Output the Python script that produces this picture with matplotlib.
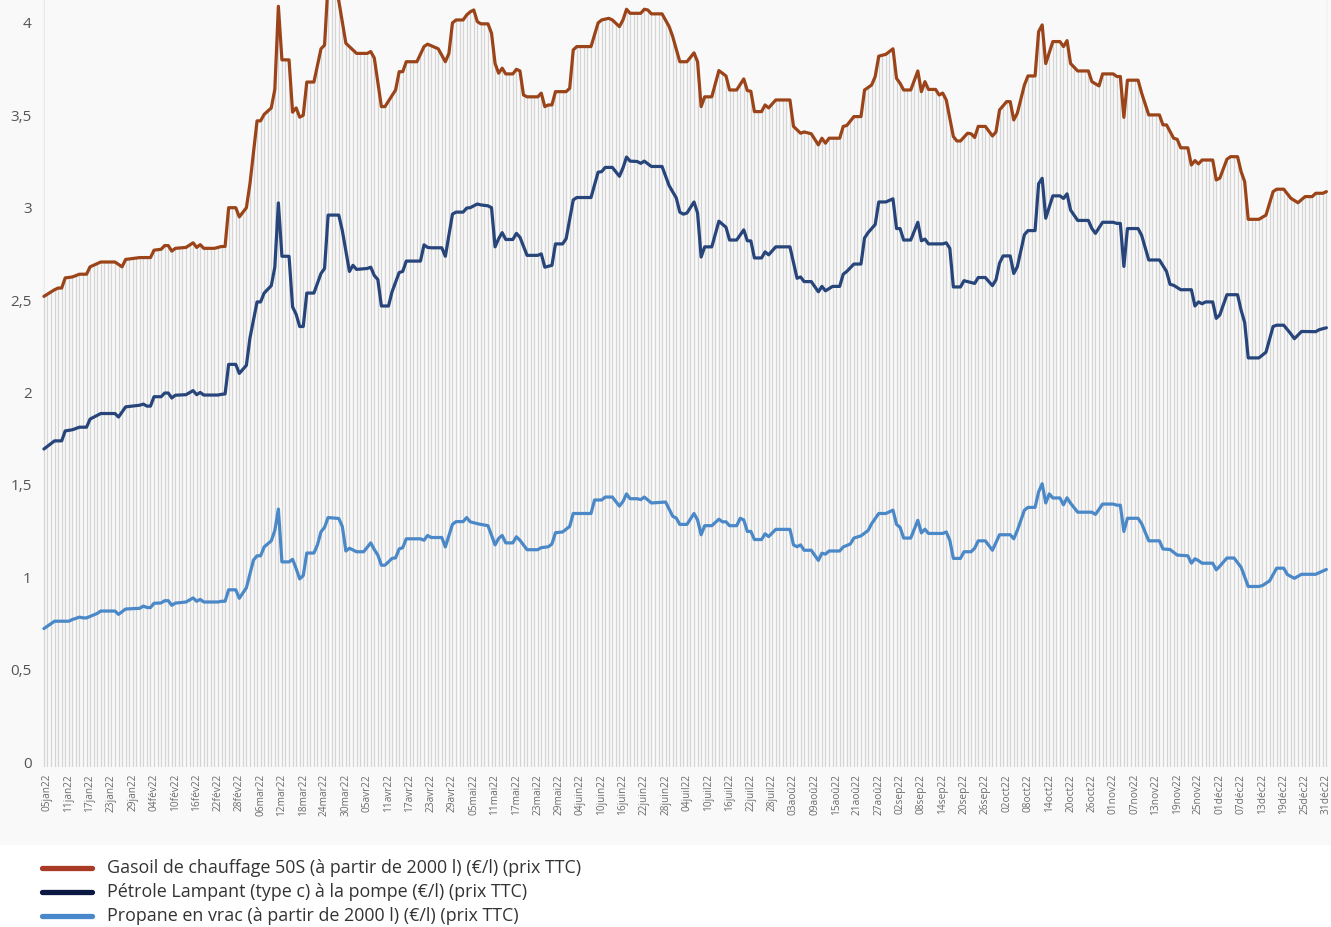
import numpy as np
import matplotlib
matplotlib.use("Agg")
import matplotlib.pyplot as plt
from matplotlib.lines import Line2D
from matplotlib.patches import Rectangle

# ---------------- data (day of year 2022, 0 = 1 Jan) ----------------
gasoil_days = [3, 6, 7, 8, 9, 11, 13, 15, 16, 19, 23, 25, 26, 30, 33, 34, 36, 37, 38, 39,
               40, 43, 45, 46, 47, 48, 51, 53, 54, 55, 57, 58, 60, 61, 63, 64, 65, 67, 68, 69,
               70, 72, 73, 74, 75, 76, 77, 79, 81, 82, 83, 84, 86, 88, 91, 94, 95, 96, 98, 99,
               102, 103, 104, 105, 108, 110, 111, 114, 116, 117, 118, 119, 121, 122, 123, 124, 125, 126, 128, 129,
               130, 131, 132, 133, 135, 136, 137, 138, 139, 142, 143, 144, 145, 146, 147, 150, 151, 152, 153, 157,
               159, 160, 162, 163, 165, 166, 167, 168, 171, 172, 173, 174, 177, 179, 180, 182, 184, 186, 187, 188,
               189, 191, 193, 195, 196, 198, 200, 201, 202, 203, 205, 206, 207, 209, 213, 214, 216, 217, 219, 221,
               222, 223, 224, 227, 228, 229, 231, 233, 234, 236, 237, 238, 240, 242, 243, 244, 245, 247, 249, 250,
               251, 252, 254, 255, 256, 257, 259, 260, 261, 263, 264, 265, 266, 268, 270, 271, 272, 274, 275, 276,
               277, 279, 280, 282, 283, 284, 285, 287, 289, 290, 291, 292, 294, 297, 298, 300, 301, 304, 305, 306,
               307, 308, 311, 312, 314, 317, 318, 319, 321, 322, 323, 325, 326, 327, 328, 329, 332, 333, 334, 336,
               337, 339, 340, 341, 342, 345, 347, 349, 350, 352, 354, 356, 358, 360, 361, 363, 364]
gasoil_vals = [2.52, 2.556, 2.565, 2.565, 2.62, 2.625, 2.64, 2.64, 2.68, 2.706, 2.706, 2.68, 2.72, 2.73, 2.73, 2.77, 2.775, 2.795, 2.795, 2.765,
               2.78, 2.785, 2.81, 2.785, 2.80, 2.78, 2.78, 2.79, 2.79, 3.0, 3.0, 2.95, 3.0, 3.13, 3.47, 3.47, 3.505, 3.54, 3.64, 4.09,
               3.80, 3.80, 3.517, 3.54, 3.49, 3.50, 3.68, 3.68, 3.86, 3.88, 4.22, 4.24, 4.12, 3.89, 3.835, 3.835, 3.845, 3.81, 3.547, 3.547,
               3.637, 3.736, 3.736, 3.79, 3.79, 3.872, 3.885, 3.86, 3.79, 3.835, 4.0, 4.016, 4.016, 4.043, 4.06, 4.07, 4.007, 3.995, 3.995, 3.944,
               3.78, 3.728, 3.755, 3.724, 3.724, 3.749, 3.74, 3.61, 3.60, 3.60, 3.62, 3.547, 3.556, 3.556, 3.628, 3.628, 3.646, 3.854, 3.872, 3.872,
               4.0, 4.016, 4.025, 4.016, 3.98, 4.016, 4.074, 4.052, 4.052, 4.074, 4.07, 4.049, 4.049, 3.98, 3.926, 3.79, 3.79, 3.838, 3.79, 3.547,
               3.60, 3.60, 3.742, 3.713, 3.637, 3.637, 3.697, 3.634, 3.63, 3.52, 3.52, 3.556, 3.54, 3.583, 3.583, 3.44, 3.403, 3.41, 3.40, 3.34,
               3.376, 3.349, 3.376, 3.376, 3.44, 3.445, 3.493, 3.493, 3.637, 3.664, 3.71, 3.82, 3.83, 3.86, 3.70, 3.673, 3.637, 3.637, 3.74, 3.628,
               3.682, 3.64, 3.64, 3.61, 3.62, 3.583, 3.385, 3.361, 3.361, 3.403, 3.40, 3.38, 3.44, 3.44, 3.388, 3.41, 3.529, 3.574, 3.574, 3.475,
               3.511, 3.664, 3.713, 3.713, 3.953, 3.989, 3.78, 3.899, 3.899, 3.872, 3.904, 3.78, 3.74, 3.74, 3.682, 3.659, 3.724, 3.724, 3.71, 3.71,
               3.489, 3.69, 3.69, 3.62, 3.502, 3.502, 3.448, 3.448, 3.376, 3.37, 3.324, 3.324, 3.231, 3.255, 3.237, 3.258, 3.258, 3.15, 3.16, 3.262,
               3.276, 3.276, 3.195, 3.141, 2.937, 2.937, 2.96, 3.087, 3.10, 3.10, 3.051, 3.027, 3.06, 3.06, 3.078, 3.078, 3.087]

petrole_days = [3, 5, 6, 8, 9, 11, 13, 15, 16, 19, 23, 24, 26, 30, 31, 32, 33, 34, 36, 37,
                38, 39, 40, 43, 45, 46, 47, 48, 52, 53, 54, 55, 57, 58, 60, 61, 63, 64, 65, 67,
                68, 69, 70, 72, 73, 74, 75, 76, 77, 79, 81, 82, 83, 86, 87, 89, 90, 91, 94, 95,
                96, 97, 98, 100, 101, 103, 104, 105, 109, 110, 111, 112, 115, 116, 118, 119, 121, 122, 123, 125,
                126, 128, 129, 130, 131, 132, 133, 135, 136, 137, 139, 142, 143, 144, 146, 147, 149, 150, 152, 153,
                157, 159, 160, 161, 163, 165, 166, 167, 168, 170, 171, 172, 174, 177, 179, 181, 182, 183, 184, 186,
                187, 188, 189, 191, 193, 195, 196, 198, 200, 201, 202, 203, 205, 206, 207, 209, 213, 215, 216, 217,
                219, 221, 222, 223, 225, 227, 228, 229, 231, 233, 234, 235, 237, 238, 240, 242, 243, 244, 245, 247,
                249, 250, 251, 252, 256, 257, 258, 259, 261, 262, 265, 266, 268, 270, 271, 272, 273, 275, 276, 277,
                279, 280, 282, 283, 284, 285, 287, 289, 290, 291, 292, 294, 297, 298, 299, 301, 304, 305, 306, 307,
                308, 311, 312, 314, 317, 319, 320, 321, 323, 326, 327, 328, 329, 330, 332, 333, 334, 336, 339, 340,
                341, 342, 345, 347, 349, 350, 352, 354, 355, 357, 361, 362, 364]
petrole_vals = [1.694, 1.723, 1.738, 1.738, 1.792, 1.798, 1.812, 1.812, 1.856, 1.886, 1.886, 1.867, 1.922, 1.931, 1.937, 1.926, 1.926, 1.977, 1.977, 1.997,
                1.997, 1.97, 1.985, 1.988, 2.01, 1.988, 2.0, 1.986, 1.986, 1.99, 1.992, 2.152, 2.152, 2.103, 2.147, 2.295, 2.49, 2.49, 2.538, 2.578,
                2.678, 3.026, 2.737, 2.737, 2.463, 2.423, 2.357, 2.357, 2.538, 2.538, 2.644, 2.671, 2.96, 2.96, 2.876, 2.655, 2.688, 2.666, 2.671, 2.678,
                2.633, 2.611, 2.468, 2.468, 2.545, 2.649, 2.655, 2.711, 2.711, 2.799, 2.785, 2.783, 2.783, 2.737, 2.965, 2.976, 2.976, 2.998, 3.0, 3.02,
                3.015, 3.01, 3.0, 2.788, 2.832, 2.865, 2.828, 2.828, 2.861, 2.84, 2.742, 2.742, 2.75, 2.678, 2.688, 2.804, 2.804, 2.832, 3.042, 3.055,
                3.055, 3.192, 3.195, 3.218, 3.218, 3.17, 3.215, 3.274, 3.252, 3.25, 3.24, 3.252, 3.223, 3.223, 3.119, 3.053, 2.976, 2.965, 2.971, 3.031,
                2.971, 2.733, 2.788, 2.788, 2.927, 2.894, 2.825, 2.825, 2.88, 2.821, 2.82, 2.728, 2.728, 2.761, 2.745, 2.788, 2.788, 2.618, 2.625, 2.60,
                2.60, 2.545, 2.574, 2.55, 2.574, 2.574, 2.64, 2.655, 2.695, 2.695, 2.836, 2.865, 2.909, 3.031, 3.031, 3.048, 2.887, 2.887, 2.825, 2.825,
                2.921, 2.821, 2.83, 2.804, 2.804, 2.81, 2.78, 2.571, 2.571, 2.605, 2.59, 2.622, 2.622, 2.578, 2.61, 2.70, 2.739, 2.739, 2.644, 2.68,
                2.854, 2.876, 2.876, 3.13, 3.159, 2.943, 3.064, 3.064, 3.05, 3.075, 2.987, 2.931, 2.931, 2.887, 2.861, 2.921, 2.921, 2.915, 2.915, 2.682,
                2.887, 2.887, 2.85, 2.717, 2.717, 2.655, 2.585, 2.58, 2.556, 2.556, 2.468, 2.49, 2.48, 2.49, 2.49, 2.401, 2.42, 2.529, 2.529, 2.445,
                2.379, 2.187, 2.187, 2.218, 2.357, 2.364, 2.364, 2.317, 2.291, 2.33, 2.329, 2.34, 2.35]

propane_days = [3, 5, 6, 10, 11, 13, 14, 15, 18, 19, 23, 24, 26, 30, 31, 32, 33, 34, 36, 37,
                38, 39, 40, 43, 45, 46, 47, 48, 52, 53, 54, 55, 57, 58, 60, 62, 63, 64, 65, 67,
                68, 69, 70, 72, 73, 74, 75, 76, 77, 79, 80, 81, 82, 83, 86, 87, 88, 89, 91, 93,
                95, 96, 97, 98, 99, 101, 102, 103, 104, 105, 109, 110, 111, 112, 115, 116, 118, 119, 121, 122,
                123, 125, 126, 128, 130, 131, 132, 133, 135, 136, 137, 139, 142, 143, 145, 146, 147, 149, 151, 152,
                157, 158, 160, 161, 163, 165, 166, 167, 168, 170, 171, 172, 174, 178, 180, 181, 182, 184, 186, 187,
                188, 189, 191, 193, 194, 195, 196, 198, 199, 200, 201, 202, 203, 205, 206, 207, 209, 213, 214, 215,
                216, 217, 219, 221, 222, 223, 224, 227, 228, 230, 231, 233, 235, 236, 238, 240, 242, 243, 244, 245,
                247, 249, 250, 251, 252, 256, 257, 258, 259, 261, 262, 264, 265, 266, 268, 270, 272, 275, 276, 277,
                279, 280, 282, 283, 284, 285, 286, 287, 289, 290, 291, 292, 294, 298, 299, 301, 304, 305, 306, 307,
                308, 311, 312, 314, 317, 318, 320, 322, 325, 326, 327, 328, 329, 332, 333, 334, 336, 338, 340, 342,
                345, 346, 348, 350, 352, 353, 355, 357, 361, 362, 364]
propane_vals = [0.722, 0.749, 0.762, 0.762, 0.771, 0.784, 0.78, 0.78, 0.804, 0.817, 0.817, 0.799, 0.828, 0.832, 0.844, 0.836, 0.836, 0.859, 0.861, 0.873,
                0.873, 0.848, 0.86, 0.866, 0.888, 0.87, 0.88, 0.866, 0.866, 0.87, 0.87, 0.932, 0.932, 0.886, 0.943, 1.093, 1.116, 1.116, 1.164, 1.197,
                1.253, 1.369, 1.083, 1.083, 1.097, 1.047, 0.991, 1.009, 1.131, 1.131, 1.175, 1.246, 1.27, 1.323, 1.318, 1.275, 1.142, 1.157, 1.138, 1.138,
                1.186, 1.15, 1.12, 1.065, 1.065, 1.102, 1.105, 1.153, 1.16, 1.208, 1.208, 1.20, 1.226, 1.215, 1.215, 1.164, 1.286, 1.301, 1.301, 1.323,
                1.30, 1.29, 1.286, 1.279, 1.175, 1.21, 1.226, 1.186, 1.186, 1.219, 1.20, 1.149, 1.149, 1.16, 1.165, 1.18, 1.241, 1.245, 1.275, 1.345,
                1.345, 1.418, 1.418, 1.434, 1.434, 1.385, 1.41, 1.451, 1.425, 1.425, 1.42, 1.434, 1.402, 1.407, 1.33, 1.32, 1.286, 1.286, 1.345, 1.31,
                1.23, 1.279, 1.279, 1.314, 1.30, 1.30, 1.279, 1.279, 1.319, 1.31, 1.248, 1.248, 1.204, 1.204, 1.235, 1.22, 1.259, 1.259, 1.175, 1.165,
                1.175, 1.146, 1.146, 1.091, 1.13, 1.125, 1.142, 1.142, 1.164, 1.18, 1.212, 1.224, 1.253, 1.29, 1.345, 1.345, 1.363, 1.286, 1.27, 1.212,
                1.212, 1.308, 1.24, 1.26, 1.237, 1.237, 1.245, 1.20, 1.102, 1.102, 1.138, 1.138, 1.157, 1.197, 1.197, 1.146, 1.23, 1.23, 1.208, 1.253,
                1.363, 1.378, 1.378, 1.462, 1.506, 1.402, 1.451, 1.429, 1.429, 1.392, 1.43, 1.40, 1.352, 1.352, 1.34, 1.396, 1.396, 1.39, 1.39, 1.248,
                1.319, 1.319, 1.29, 1.197, 1.197, 1.153, 1.15, 1.12, 1.116, 1.076, 1.10, 1.09, 1.076, 1.076, 1.04, 1.06, 1.104, 1.104, 1.054, 0.95,
                0.95, 0.955, 0.98, 1.049, 1.049, 1.015, 0.994, 1.016, 1.016, 1.025, 1.042]

series_names = ["Gasoil de chauffage 50S (à partir de 2000 l) (€/l) (prix TTC)",
                "Pétrole Lampant (type c) à la pompe (€/l) (prix TTC)",
                "Propane en vrac (à partir de 2000 l) (€/l) (prix TTC)"]

y_ticks = [0, 0.5, 1, 1.5, 2, 2.5, 3, 3.5, 4]
y_tick_labels = ["0", "0,5", "1", "1,5", "2", "2,5", "3", "3,5", "4"]

x_tick_labels = [
    "05jan22", "11jan22", "17jan22", "23jan22", "29jan22",
    "04fév22", "10fév22", "16fév22", "22fév22", "28fév22",
    "06mar22", "12mar22", "18mar22", "24mar22", "30mar22",
    "05avr22", "11avr22", "17avr22", "23avr22", "29avr22",
    "05mai22", "11mai22", "17mai22", "23mai22", "29mai22",
    "04juin22", "10juin22", "16juin22", "22juin22", "28juin22",
    "04juil22", "10juil22", "16juil22", "22juil22", "28juil22",
    "03aoû22", "09aoû22", "15aoû22", "21aoû22", "27aoû22",
    "02sep22", "08sep22", "14sep22", "20sep22", "26sep22",
    "02oct22", "08oct22", "14oct22", "20oct22", "26oct22",
    "01nov22", "07nov22", "13nov22", "19nov22", "25nov22",
    "01déc22", "07déc22", "13déc22", "19déc22", "25déc22", "31déc22"]

# ---------------- style ----------------
plt.rcParams["font.family"] = ["Open Sans", "DejaVu Sans"]
W, H = 1331, 927
BG = "#f9f9f9"
line_colors = ["#9b4419", "#27457a", "#4a88c8"]
legend_colors = ["#a83a26", "#0c1844", "#4a88cc"]

fig = plt.figure(figsize=(W / 100, H / 100), dpi=100)
fig.patch.set_facecolor("white")
fig.patches.append(Rectangle((0, (H - 845) / H), 1, 845 / H, transform=fig.transFigure,
                             facecolor=BG, edgecolor="none", zorder=-10))

ax = fig.add_axes([40 / W, (H - 767) / H, (W - 40) / W, 767 / H])
ax.set_zorder(1)
ax.set_facecolor(BG)
ax.set_xlim(1.9, 365.3)
ax.set_ylim(-0.027, 4.124)

# daily vertical stripes under the top series
stripe_days = np.arange(gasoil_days[0], gasoil_days[-1] + 1)
ax.vlines(stripe_days, -0.027, 4.3, color="#d4d4d4", lw=0.9, zorder=1)
ax.fill_between(gasoil_days, gasoil_vals, 4.5, color=BG, lw=0, zorder=2)

for d, v, c in zip([gasoil_days, petrole_days, propane_days],
                   [gasoil_vals, petrole_vals, propane_vals], line_colors):
    ax.plot(d, v, color=c, lw=2.3, solid_joinstyle="round", solid_capstyle="round", zorder=3)

for s in ax.spines.values():
    s.set_visible(False)

ax.set_yticks(y_ticks)
ax.set_yticklabels(y_tick_labels)
ax.tick_params(axis="y", length=0, pad=6, labelsize=11, labelcolor="#555555")

tick_days = np.arange(4, 365, 6)
ax.set_xticks(tick_days)
ax.set_xticklabels(x_tick_labels, rotation=90)
ax.tick_params(axis="x", length=0, pad=5, labelsize=7.3, labelcolor="#6a6a6a")

# legend
for i, (name, c) in enumerate(zip(series_names, legend_colors)):
    yy = (H - (868 + 24 * i)) / H
    fig.add_artist(Line2D([42 / W, 92 / W], [yy, yy], transform=fig.transFigure,
                          color=c, lw=3.8, solid_capstyle="round"))
    fig.text(107 / W, yy, name, fontsize=12.9, color="#333333", va="center", ha="left")

fig.savefig("out.png", dpi=100, facecolor=fig.get_facecolor())
